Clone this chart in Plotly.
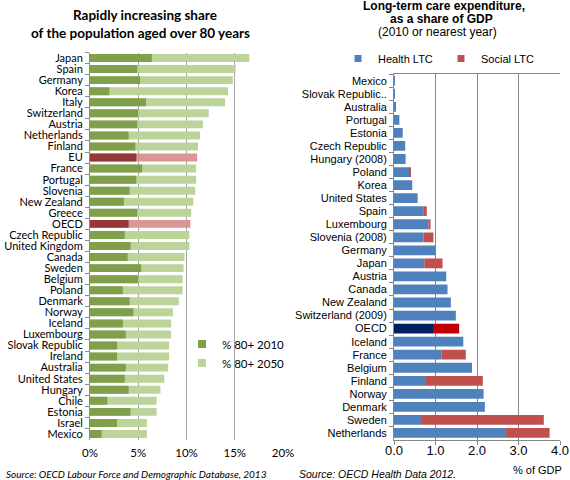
import plotly.graph_objects as go

W, H = 570, 480

# ---------------- Left chart data ----------------
countries_80 = ["Japan", "Spain", "Germany", "Korea", "Italy", "Switzerland", "Austria",
                "Netherlands", "Finland", "EU", "France", "Portugal", "Slovenia",
                "New Zealand", "Greece", "OECD", "Czech Republic", "United Kingdom",
                "Canada", "Sweden", "Belgium", "Poland", "Denmark", "Norway", "Iceland",
                "Luxembourg", "Slovak Republic", "Ireland", "Australia", "United States",
                "Hungary", "Chile", "Estonia", "Israel", "Mexico"]
share_2010 = [6.4, 4.9, 5.2, 2.0, 5.8, 5.0, 4.9, 4.0, 4.7, 4.8, 5.4, 4.8, 4.1,
              3.5, 4.9, 4.0, 3.6, 4.2, 3.9, 5.3, 5.0, 3.4, 4.1, 4.5, 3.4,
              3.7, 2.8, 2.8, 3.7, 3.6, 4.0, 1.8, 4.2, 2.8, 1.2]
share_2050 = [16.5, 15.1, 14.8, 14.3, 14.0, 12.3, 11.7, 11.4, 11.2, 11.1, 11.0, 11.0, 10.9,
              10.7, 10.5, 10.4, 10.3, 10.3, 9.8, 9.7, 9.6, 9.6, 9.2, 8.6, 8.4,
              8.4, 8.2, 8.2, 8.1, 7.7, 7.3, 6.9, 6.9, 5.9, 5.9]
pct_ticks = [0, 5, 10, 15, 20]
pct_labels = ["0%", "5%", "10%", "15%", "20%"]

# ---------------- Right chart data ----------------
countries_ltc = ["Mexico", "Slovak Republic..", "Australia", "Portugal", "Estonia",
                 "Czech Republic", "Hungary (2008)", "Poland", "Korea", "United States",
                 "Spain", "Luxembourg", "Slovenia (2008)", "Germany", "Japan", "Austria",
                 "Canada", "New Zealand", "Switzerland (2009)", "OECD", "Iceland", "France",
                 "Belgium", "Finland", "Norway", "Denmark", "Sweden", "Netherlands"]
health_ltc = [0.01, 0.02, 0.04, 0.13, 0.21, 0.27, 0.28, 0.37, 0.44, 0.57,
              0.72, 0.83, 0.71, 1.00, 0.73, 1.26, 1.29, 1.37, 1.49, 0.94,
              1.67, 1.15, 1.88, 0.77, 2.16, 2.19, 0.65, 2.70]
social_ltc = [0.0, 0.0, 0.0, 0.0, 0.0, 0.0, 0.0, 0.03, 0.0, 0.0,
              0.07, 0.05, 0.24, 0.0, 0.44, 0.0, 0.0, 0.0, 0.0, 0.63,
              0.0, 0.58, 0.0, 1.37, 0.0, 0.0, 2.96, 1.05]
gdp_ticks = [0, 1, 2, 3, 4]
gdp_labels = ["0.0", "1.0", "2.0", "3.0", "4.0"]

# ---------------- Colours ----------------
GREEN_DARK, GREEN_LIGHT = "#7F9F4B", "#BCD39A"
RED_DARK, RED_LIGHT = "#953735", "#D99694"
BLUE, RED = "#4F81BD", "#C0504D"
NAVY, CRIMSON = "#002060", "#C00000"
HIGHLIGHT = {"EU", "OECD"}

col_2010 = [RED_DARK if c in HIGHLIGHT else GREEN_DARK for c in countries_80]
col_2050 = [RED_LIGHT if c in HIGHLIGHT else GREEN_LIGHT for c in countries_80]
col_health = [NAVY if c == "OECD" else BLUE for c in countries_ltc]
col_social = [CRIMSON if c == "OECD" else RED for c in countries_ltc]

LFONT = "Lato, 'Open Sans', sans-serif"
RFONT = "'Liberation Sans', Arial, sans-serif"


def px(x):
    return x / W


def py(y):
    return 1 - y / H


fig = go.Figure()

# Left chart (overlaid bars)
fig.add_trace(go.Bar(y=countries_80, x=share_2050, orientation="h", name="% 80+ 2050",
                     marker=dict(color=col_2050, line_width=0), width=0.72,
                     xaxis="x", yaxis="y", showlegend=False))
fig.add_trace(go.Bar(y=countries_80, x=share_2010, orientation="h", name="% 80+ 2010",
                     marker=dict(color=col_2010, line_width=0), width=0.72,
                     xaxis="x", yaxis="y", showlegend=False))
# legend entries
fig.add_trace(go.Scatter(x=[None], y=[None], mode="markers", name="% 80+ 2010",
                         marker=dict(symbol="square", size=8, color=GREEN_DARK),
                         xaxis="x", yaxis="y", legend="legend"))
fig.add_trace(go.Scatter(x=[None], y=[None], mode="markers", name="% 80+ 2050",
                         marker=dict(symbol="square", size=8, color=GREEN_LIGHT),
                         xaxis="x", yaxis="y", legend="legend"))

# Right chart (stacked with base)
fig.add_trace(go.Bar(y=countries_ltc, x=health_ltc, orientation="h", name="Health LTC",
                     marker=dict(color=col_health, line_width=0), width=0.75,
                     xaxis="x2", yaxis="y2", showlegend=False))
fig.add_trace(go.Bar(y=countries_ltc, x=social_ltc, base=health_ltc, orientation="h",
                     name="Social LTC", marker=dict(color=col_social, line_width=0),
                     width=0.75, xaxis="x2", yaxis="y2", showlegend=False))
fig.add_trace(go.Scatter(x=[None], y=[None], mode="markers", name="Health LTC",
                         marker=dict(symbol="square", size=7, color=BLUE),
                         xaxis="x2", yaxis="y2", legend="legend2"))
fig.add_trace(go.Scatter(x=[None], y=[None], mode="markers", name="Social LTC",
                         marker=dict(symbol="square", size=7, color=RED),
                         xaxis="x2", yaxis="y2", legend="legend2"))

fig.update_layout(
    template="none",
    width=W, height=H, margin=dict(l=0, r=0, t=0, b=0, autoexpand=False),
    paper_bgcolor="white", plot_bgcolor="white",
    barmode="overlay",
    xaxis=dict(domain=[px(90), px(283)], range=[0, 20], tickvals=pct_ticks,
               ticktext=pct_labels, showgrid=True, gridcolor="#A6A6A6", gridwidth=1,
               zeroline=False, showline=False, ticks="", automargin=False,
               ticklabelstandoff=5,
               tickfont=dict(family=LFONT, size=11.5, color="black"), fixedrange=True),
    yaxis=dict(domain=[py(439.5), py(52.5)], type="category", autorange="reversed",
               tickmode="linear", tick0=0, dtick=1, automargin=False,
               showline=True, linecolor="#8C8C8C", linewidth=1, ticks="outside",
               tickson="boundaries", ticklen=4, tickcolor="#8C8C8C",
               tickfont=dict(family=LFONT, size=11, color="black"), showgrid=False,
               anchor="x", ticklabelstandoff=4),
    xaxis2=dict(domain=[px(394), px(560)], range=[0, 4], tickvals=gdp_ticks,
                ticktext=gdp_labels, showgrid=True, gridcolor="#868686", gridwidth=1,
                zeroline=False, showline=True, linecolor="#868686", mirror=True,
                ticks="outside", ticklen=4, tickcolor="#868686", anchor="y2",
                automargin=False, ticklabelstandoff=-5,
                tickfont=dict(family=RFONT, size=13, color="black")),
    yaxis2=dict(domain=[py(439.5), py(74.2)], type="category", autorange="reversed",
                tickmode="linear", tick0=0, dtick=1, automargin=False,
                showline=True, linecolor="#868686", linewidth=1, ticks="outside",
                tickson="boundaries", ticklen=4, tickcolor="#868686",
                tickfont=dict(family=RFONT, size=11, color="black"), showgrid=False,
                anchor="x2", ticklabelstandoff=4),
    legend=dict(x=px(182), y=py(329.5), xanchor="left", yanchor="top",
                orientation="v", bgcolor="rgba(0,0,0,0)",
                font=dict(family=LFONT, size=11.5, color="black"), tracegroupgap=0),
    legend2=dict(x=px(338), y=py(44), xanchor="left", yanchor="top",
                 orientation="h", bgcolor="rgba(0,0,0,0)", entrywidth=58,
                 font=dict(family=RFONT, size=11, color="black")),
    annotations=[
        dict(text="<b>Rapidly increasing share</b>", x=px(145), y=py(15), xref="paper",
             yref="paper", xanchor="center", yanchor="middle", showarrow=False,
             font=dict(family=LFONT, size=13.5, color="black")),
        dict(text="<b>of the population aged over 80 years</b>", x=px(140), y=py(33),
             xref="paper", yref="paper", xanchor="center", yanchor="middle",
             showarrow=False, font=dict(family=LFONT, size=13.5, color="black")),
        dict(text="<b>Long-term care expenditure,</b>", x=px(444), y=py(6), xref="paper",
             yref="paper", xanchor="center", yanchor="middle", showarrow=False,
             font=dict(family=RFONT, size=12, color="black")),
        dict(text="<b>as a share of GDP</b>", x=px(441), y=py(19), xref="paper",
             yref="paper", xanchor="center", yanchor="middle", showarrow=False,
             font=dict(family=RFONT, size=12, color="black")),
        dict(text="(2010 or nearest year)", x=px(438), y=py(32), xref="paper",
             yref="paper", xanchor="center", yanchor="middle", showarrow=False,
             font=dict(family=RFONT, size=12, color="black")),
        dict(text="<i>Source: OECD Labour Force and Demographic Database, 2013</i>",
             x=px(4), y=py(474), xref="paper", yref="paper", xanchor="left",
             yanchor="middle", showarrow=False,
             font=dict(family=LFONT, size=10, color="black")),
        dict(text="<i>Source: OECD Health Data 2012.</i>", x=px(297), y=py(474),
             xref="paper", yref="paper", xanchor="left", yanchor="middle",
             showarrow=False, font=dict(family=RFONT, size=10.5, color="black")),
        dict(text="% of GDP", x=px(537), y=py(470), xref="paper", yref="paper",
             xanchor="center", yanchor="middle", showarrow=False,
             font=dict(family=RFONT, size=11, color="black")),
    ],
)

# remove the browser's default page margin so the 570x480 figure fills the window
fig.write_html("out.html", config={"displayModeBar": False},
               post_script="document.body.style.margin='0';")
